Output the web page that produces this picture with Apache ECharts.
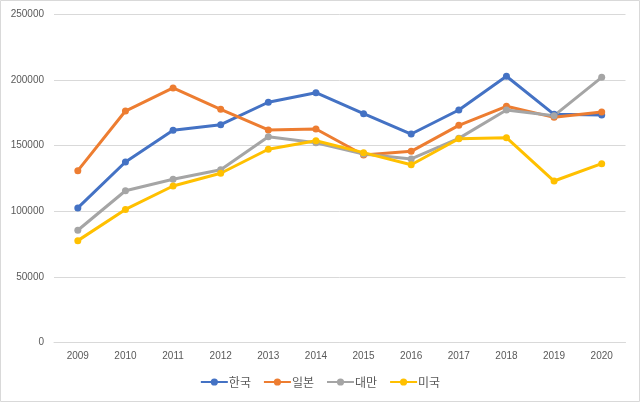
<!DOCTYPE html>
<html><head><meta charset="utf-8">
<script src="https://cdn.jsdelivr.net/npm/echarts@6/dist/echarts.min.js"></script>
<style>html,body{margin:0;padding:0;background:#fff}#c{width:640px;height:402px}</style>
</head><body><div id="c"></div>
<script>
const years = ['2009','2010','2011','2012','2013','2014','2015','2016','2017','2018','2019','2020'];
const korea = [102500,137500,161600,165900,183000,190300,174300,158800,177100,202800,173800,173300];
const japan = [130900,176300,193900,177600,161900,162600,142800,145600,165400,179900,171500,175600];
const taiwan = [85500,115600,124300,131600,156800,152200,143600,139800,155500,177100,172800,202000];
const usa = [77600,101400,119200,128900,147200,153700,144600,135400,155200,156000,123000,136200];
const seriesNames = ['한국','일본','대만','미국'];
const colors = ['#4472C4','#ED7D31','#A5A5A5','#FFC000'];
const yTicks = {min:0,max:250000,interval:50000};

const chart = echarts.init(document.getElementById('c'));
const mk = (name, data, color) => ({
  name, type:'line', data, color,
  symbol:'circle', symbolSize:7,
  lineStyle:{width:3,color}, itemStyle:{color},
  emphasis:{disabled:true}
});
chart.setOption({
  animation:false,
  textStyle:{fontFamily:'"Noto Sans CJK KR","Noto Sans",sans-serif'},
  graphic:[{type:'rect',shape:{x:0.5,y:0.5,width:639,height:401},style:{fill:'none',stroke:'#d9d9d9',lineWidth:1},silent:true}],
  grid:{left:54,right:14.5,top:14.3,bottom:59.5},
  xAxis:{type:'category',data:years,boundaryGap:true,
    axisLine:{show:true,lineStyle:{color:'#d9d9d9'}},axisTick:{show:false},
    axisLabel:{color:'#595959',fontSize:10,margin:9,fontFamily:'"Liberation Sans",sans-serif'}},
  yAxis:{type:'value',min:yTicks.min,max:yTicks.max,interval:yTicks.interval,
    axisLine:{show:false},axisTick:{show:false},
    splitLine:{lineStyle:{color:'#d9d9d9'}},
    axisLabel:{color:'#595959',fontSize:10,margin:10,formatter:v=>String(v),fontFamily:'"Liberation Sans",sans-serif'}},
  legend:{bottom:9,left:'center',itemWidth:27,itemHeight:9,itemGap:12,
    data:seriesNames,
    textStyle:{color:'#595959',fontSize:12,padding:[0,0,0,-4]}},
  series:[mk(seriesNames[0],korea,colors[0]),mk(seriesNames[1],japan,colors[1]),mk(seriesNames[2],taiwan,colors[2]),mk(seriesNames[3],usa,colors[3])]
});
</script></body></html>
